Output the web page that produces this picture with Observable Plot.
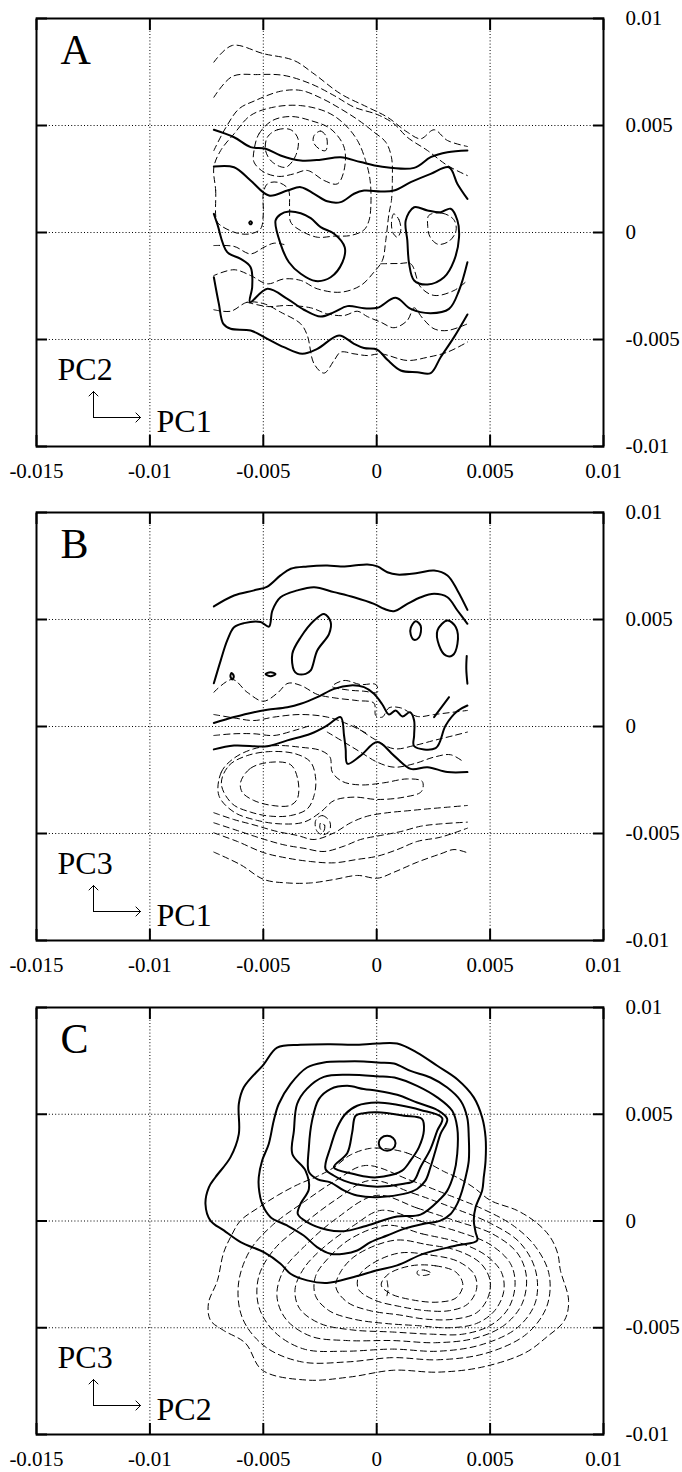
<!DOCTYPE html>
<html>
<head>
<meta charset="utf-8">
<script src="https://cdn.jsdelivr.net/npm/d3@7"></script>
<script src="https://cdn.jsdelivr.net/npm/@observablehq/plot@0.6"></script>
<style>
  html, body { margin: 0; padding: 0; background: white; }
  #chart svg { display: block; }
</style>
</head>
<body>
<div id="chart"></div>
<script>
// ---- axis ticks -------------------------------------------------------
const xTicks = [-0.015, -0.01, -0.005, 0, 0.005, 0.01];
const xTickLabels = ["-0.015", "-0.01", "-0.005", "0", "0.005", "0.01"];
const yTicks = [-0.01, -0.005, 0, 0.005, 0.01];
const yTickLabels = ["-0.01", "-0.005", "0", "0.005", "0.01"];

const panelLetters = ["A", "B", "C"];
const verticalPC = ["PC2", "PC3", "PC3"];
const horizontalPC = ["PC1", "PC1", "PC2"];

// ---- contour lines, flat [x, y, x, y, ...] lists in units of 1e-3 -------
// Panel A (PC1 vs PC2)
const aSolidOpen = [
  [-7.18,4.80, -6.29,4.45, -5.56,3.99, -4.90,3.91, -4.24,3.60, -3.35,3.36, -2.47,3.40, -1.59,3.52, -0.71,3.29, 0.18,3.08, 1.65,3.02, 2.38,3.52, 3.12,3.75, 4.0,3.83],
  [-7.18,3.08, -6.29,3.05, -5.56,2.43, -4.75,1.73, -3.94,1.96, -3.35,2.12, -2.76,1.81, -2.18,1.46, -1.59,1.42, -1.0,1.81, -0.56,1.96, 0.18,1.92, 0.76,1.96, 1.5,2.35, 2.38,2.74, 3.19,3.05, 3.56,2.27, 4.0,1.57],
  [-7.18,0.87, -7.03,0.40, -6.59,-0.92, -6.0,-1.23, -5.56,-1.62, -5.49,-2.55, -5.59,-3.26, -4.82,-2.63, -3.94,-3.10, -3.21,-3.61, -2.47,-3.93, -1.88,-3.72, -1.29,-3.44, -0.56,-3.54, 0.03,-3.52, 0.84,-3.05, 1.5,-3.57, 2.38,-3.77, 3.19,-3.57, 3.63,-2.71, 4.0,-1.39],
  [-7.18,-2.09, -6.96,-3.33, -6.76,-4.27, -6.44,-4.50, -5.56,-4.58, -4.82,-4.97, -4.09,-5.36, -3.28,-5.67, -2.62,-5.44, -1.66,-4.81, -1.0,-5.2, -0.56,-5.4, 0.03,-5.48, 0.47,-5.95, 1.06,-6.45, 1.79,-6.53, 2.38,-6.57, 2.82,-5.83, 3.41,-4.89, 4.0,-3.83]
];
const aSolidClosed = [
  [-3.87,0.98, -3.35,0.90, -2.91,0.67, -2.47,0.25, -1.88,-0.06, -1.41,-0.69, -1.51,-1.39, -2.03,-2.09, -2.69,-2.27, -3.35,-1.93, -3.87,-1.39, -4.24,-0.53, -4.46,0.56, -4.24,0.85],
  [1.28,0.56, 1.65,1.18, 2.24,1.03, 2.82,0.95, 3.26,1.11, 3.56,0.56, 3.63,-0.22, 3.41,-1.31, 2.97,-2.09, 2.24,-2.43, 1.65,-2.24, 1.43,-1.46, 1.35,-0.37],
  [-5.56,0.52, -5.5,0.45, -5.56,0.38, -5.62,0.45]
];
const aDashedOpen = [
  [-7.18,7.96, -6.37,8.74, -4.97,8.35, -3.65,8.04, -2.76,7.41, -1.59,6.48, -0.41,5.86, 0.47,5.39, 1.35,4.69, 1.94,4.38, 2.53,4.80, 3.12,4.30, 4.0,4.02],
  [-7.18,6.32, -6.37,7.29, -5.26,7.38, -4.09,7.34, -2.91,6.95, -1.88,6.40, -1.0,5.86, 0.03,5.51, 0.76,5.08, 1.35,4.45, 2.24,3.83, 3.12,3.13, 4.0,2.66],
  [-7.18,3.83, -6.66,4.89, -6.07,5.78, -5.41,6.14, -4.24,6.60, -3.35,6.64, -2.47,6.29, -1.59,5.78, -0.78,5.23, -0.12,4.69, 0.40,4.22, 0.65,3.52, 0.69,2.43, 0.65,1.50, 0.54,0.87, 0.40,-0.37, 0.25,-1.31, -0.12,-1.85, -0.71,-2.48, -1.59,-2.79, -2.62,-2.63, -3.35,-2.24, -4.09,-2.17, -4.82,-2.40, -5.56,-2.01, -6.29,-1.74, -7.18,-2.01],
  [0.18,-1.46, 1.0,-1.45, 1.5,-1.46, 1.94,-2.55, 2.53,-2.94, 3.41,-2.71, 4.0,-2.24],
  [-7.18,-3.61, -6.44,-3.68, -5.71,-3.26, -4.97,-3.33, -4.24,-3.72, -3.35,-4.27, -3.06,-4.81, -2.76,-6.14, -2.32,-6.57, -1.88,-5.98, -1.59,-5.59, -1.0,-5.67, -0.41,-5.75, 0.18,-5.67, 1.35,-5.98, 2.24,-5.83, 3.12,-5.59, 4.0,-5.12],
  [-5.71,-3.26, -4.82,-3.46, -3.94,-3.41, -2.91,-3.52, -2.18,-3.80, -1.44,-3.88, -0.85,-3.68, -0.41,-3.93, 0.18,-4.19, 0.76,-4.45, 1.35,-4.11, 1.65,-3.52, 2.01,-3.99, 2.53,-4.50, 3.12,-4.58, 4.0,-4.27],
  [-7.18,-0.61, -6.29,-0.65, -5.56,-1.0, -4.97,-0.69, -4.53,-0.5, -4.09,-0.56]
];
const aDashedClosed = [
  [-7.18,3.05, -7.1,1.96, -7.06,0.56, -6.88,0.33, -6.15,-0.03, -5.56,-0.06, -5.12,0.17, -5.0,0.87, -5.0,1.81, -4.82,2.27, -4.38,2.35, -3.91,2.04, -3.84,1.18, -3.79,0.48, -3.35,0.09, -2.62,-0.22, -1.88,-0.17, -1.15,-0.14, -0.56,0.12, -0.34,0.56, -0.26,1.18, -0.29,2.43, -0.49,3.36, -0.85,4.30, -1.44,5.08, -2.18,5.62, -3.35,5.93, -4.53,5.86, -5.56,5.47, -6.29,4.61, -6.88,3.83],
  [-4.82,4.45, -4.38,4.80, -3.79,4.80, -3.47,4.38, -3.57,3.60, -4.01,3.05, -4.60,3.29, -4.90,3.83],
  [-2.76,4.53, -2.47,4.74, -2.21,4.45, -2.25,3.83, -2.54,3.91, -2.79,4.22],
  [-5.41,3.83, -5.19,4.61, -4.60,5.23, -3.79,5.42, -2.91,5.23, -2.03,4.84, -1.44,3.99, -1.44,2.90, -1.74,2.27, -2.32,2.43, -3.06,2.90, -3.65,2.74, -4.31,2.62, -4.97,2.82, -5.41,3.29],
  [0.75,0.87, 0.98,0.6, 1.06,0.09, 0.91,-0.22, 0.74,-0.06, 0.65,0.40],
  [2.3,0.8, 2.9,0.9, 3.4,0.6, 3.5,0.1, 3.2,-0.4, 2.7,-0.55, 2.35,-0.2, 2.25,0.3]
];

// Panel B (PC1 vs PC3)
const bSolidOpen = [
  [-7.18,5.61, -6.29,6.12, -5.41,6.36, -4.82,6.54, -4.24,7.06, -3.79,7.37, -3.06,7.48, -2.18,7.52, -1.59,7.48, -1.0,7.52, -0.41,7.57, 0.03,7.48, 0.47,7.21, 0.91,7.10, 1.79,7.17, 2.53,7.29, 3.12,7.06, 3.56,6.36, 4.0,5.45],
  [-7.18,2.02, -6.88,3.08, -6.59,4.02, -6.29,4.64, -5.85,4.83, -5.12,4.88, -4.75,4.67, -4.6,5.42, -4.24,6.04, -3.5,6.36, -2.76,6.51, -1.88,6.28, -1.0,6.04, -0.12,5.73, 0.32,5.50, 0.76,5.39, 1.35,5.73, 1.94,6.04, 2.53,6.20, 3.12,6.04, 3.56,5.42, 4.0,4.80],
  [-7.18,0.16, -6.29,0.44, -5.41,0.67, -4.82,0.78, -3.94,0.9, -3.35,1.06, -2.62,1.37, -1.88,1.76, -1.15,1.92, -0.56,1.84, -0.12,1.53, 0.25,1.03, 0.54,0.56, 0.84,0.75, 1.13,0.47, 1.47,0.67, 1.65,0.28, 1.65,-0.42, 1.65,-0.92, 2.6,-1.01, 3.04,0.05, 3.56,0.72, 4.0,0.98],
  [-7.18,-1.07, -6.29,-0.89, -4.82,-0.92, -3.94,-0.65, -2.91,-0.34, -2.18,0.05, -1.59,0.44, -1.44,-0.42, -1.37,-1.04, -1.29,-1.74, -0.71,-1.36, 0.03,-0.73, 0.76,-1.36, 1.5,-1.98, 2.24,-1.9, 3.12,-2.13, 4.0,-2.13],
  [3.97,3.3, 3.95,2.7, 4.0,2.0],
  [2.53,0.44, 3.19,1.37]
];
const bSolidClosed = [
  [-3.65,2.62, -3.72,3.40, -3.35,4.17, -2.76,4.95, -2.32,5.26, -2.03,4.88, -2.10,4.33, -2.62,3.55, -2.91,2.62, -3.13,2.46, -3.5,2.46],
  [1.5,4.61, 1.72,4.92, 1.94,4.7, 1.87,4.17, 1.65,4.05, 1.5,4.3],
  [2.68,4.49, 3.12,4.95, 3.49,4.64, 3.56,3.86, 3.34,3.32, 3.04,3.32, 2.75,3.79],
  [-6.4,2.5, -6.3,2.35, -6.37,2.2, -6.45,2.35],
  [-4.9,2.45, -4.68,2.54, -4.46,2.45, -4.68,2.35]
];
const bDashedOpen = [
  [-7.18,1.6, -6.37,2.2, -5.71,1.6, -5.0,1.18, -4.38,1.56, -3.91,2.02, -3.35,1.92, -2.62,1.5, -1.88,1.34, -0.85,1.21, -0.12,1.09, -0.04,0.51, 0.25,0.44, 0.54,0.87, 1.06,0.87, 1.79,0.47, 2.53,0.56, 4.0,0.75],
  [-7.18,0.56, -6.29,0.4, -5.41,0.28, -4.53,0.44, -3.35,0.56, -2.18,0.44, -1.29,0.12, -0.41,-0.34],
  [-7.18,-0.42, -6.29,-0.34, -5.41,-0.34, -4.53,-0.42, -3.65,-0.19, -2.91,0.05],
  [-2.18,-0.26, -1.44,-0.73, -0.71,-1.2, 0.03,-1.67, 0.76,-1.9, 1.65,-1.74, 2.53,-1.43, 3.26,-1.32, 3.85,-1.67],
  [-1.0,0.05, -0.12,-0.58, 0.76,-1.04, 1.65,-0.89, 2.53,-0.65, 3.41,-0.42, 4.0,-0.26],
  [-7.18,-4.03, -6.29,-4.35, -5.41,-4.60, -4.38,-4.91, -3.5,-5.09, -2.76,-5.28, -1.88,-4.97, -1.15,-4.5, -0.41,-4.19, 0.47,-4.03, 1.35,-3.94, 2.24,-3.85, 3.12,-3.77, 4.0,-3.69],
  [-7.18,-4.5, -6.15,-4.86, -5.12,-5.22, -4.09,-5.53, -3.21,-5.69, -2.32,-5.84, -1.44,-5.59, -0.71,-5.28, 0.18,-5.09, 1.06,-4.91, 1.94,-4.66, 2.82,-4.55, 4.0,-4.47],
  [-7.18,-4.97, -6.15,-5.37, -4.97,-5.9, -3.94,-6.15, -2.91,-6.31, -1.88,-6.37, -0.85,-6.21, 0.03,-6.06, 0.91,-5.75, 1.79,-5.37, 2.82,-5.17, 4.0,-4.75],
  [-7.18,-5.87, -6.0,-6.46, -4.97,-7.15, -3.94,-7.31, -2.91,-7.31, -1.88,-7.15, -0.85,-6.96, 0.03,-7.09, 0.76,-6.81, 1.79,-6.34, 2.82,-5.95, 3.41,-5.75, 4.0,-5.90]
];
const bDashedClosed = [
  [-6.0,-2.6, -5.56,-1.95, -4.68,-1.67, -3.79,-1.79, -3.47,-2.52, -3.5,-3.38, -3.82,-3.69, -4.6,-3.69, -5.41,-3.46, -5.93,-3.07],
  [-6.85,-2.68, -6.51,-1.82, -5.71,-1.36, -4.68,-1.17, -3.57,-1.28, -2.91,-1.67, -2.69,-2.45, -2.76,-3.22, -3.06,-3.85, -3.79,-4.16, -4.68,-4.19, -5.56,-4.0, -6.37,-3.61],
  [-6.96,-3.22, -6.85,-2.13, -6.29,-1.48, -5.41,-1.04, -4.38,-0.89, -3.35,-0.97, -2.47,-1.12, -2.06,-1.43, -1.96,-2.13, -1.51,-2.57, -0.71,-2.73, 0.32,-2.63, 1.35,-2.45, 2.01,-2.57, 1.97,-3.04, 1.21,-3.30, 0.03,-3.41, -1.0,-3.30, -1.88,-3.46, -2.47,-4.0, -3.21,-4.47, -4.24,-4.55, -5.26,-4.39, -6.29,-4.0],
  [-2.69,-4.39, -2.4,-4.16, -2.06,-4.47, -2.1,-4.91, -2.4,-5.06, -2.65,-4.86],
  [-2.47,-4.5, -2.29,-4.63, -2.35,-4.91, -2.5,-4.75],
  [-1.96,1.87, -1.44,2.15, -0.71,1.96, -0.04,1.96, 0.03,1.6, -0.56,1.65, -1.29,1.71]
];

// Panel C (PC2 vs PC3)
const cSolidOpen = [];
const cSolidClosed = [
  [-7.11,2.05, -6.45,2.98, -6.08,4.07, -6.08,5.48, -5.86,6.26, -4.98,7.34, -4.39,8.12, -3.36,8.25, -2.04,8.28, -1.01,8.25, 0.02,8.31, 0.9,8.31, 1.78,7.89, 2.67,7.27, 3.55,6.64, 4.28,5.79, 4.65,4.85, 4.8,3.92, 4.8,2.83, 4.72,2.05, 4.65,1.43, 4.36,0.64, 4.28,0.02, 4.36,-0.52, 4.43,-0.91, 3.55,-1.14, 2.08,-1.53, 0.9,-2.08, 0.02,-2.31, -1.01,-2.62, -2.19,-2.9, -3.07,-2.78, -3.8,-2.47, -4.24,-2.0, -4.98,-1.46, -6.0,-0.99, -6.74,-0.44, -7.33,0.02, -7.55,0.8, -7.4,1.58],
  [-5.2,2.05, -5.05,2.83, -4.76,3.61, -4.54,4.70, -4.32,5.48, -3.8,6.41, -3.07,7.19, -2.33,7.42, -1.45,7.47, -0.57,7.47, 0.02,7.42, 0.76,7.38, 1.49,7.03, 2.37,6.72, 3.11,6.25, 3.7,5.63, 3.99,4.85, 4.06,3.92, 4.06,2.83, 3.92,2.05, 3.77,1.43, 3.55,0.80, 3.26,0.33, 2.81,0.02, 2.08,-0.13, 1.2,-0.37, 0.46,-0.68, -0.27,-0.99, -0.86,-1.38, -1.45,-1.53, -2.04,-1.53, -2.63,-1.22, -3.22,-0.68, -3.95,-0.21, -4.68,0.18, -5.05,0.80, -5.2,1.58],
  [-3.72,3.14, -3.65,4.23, -3.51,5.48, -3.07,6.2, -2.33,6.75, -1.3,6.85, 0.02,6.78, 0.9,6.69, 1.78,6.33, 2.67,5.79, 3.33,5.16, 3.55,4.38, 3.55,3.14, 3.4,2.2, 3.1,1.4, 2.81,1.04, 1.93,0.30, 0.9,0.21, -0.57,-0.26, -1.45,-0.48, -2.19,-0.41, -3.07,-0.05, -3.48,0.33, -3.36,0.8, -2.99,1.5, -3.14,2.36],
  [-2.99,2.3, -2.99,3.45, -2.85,4.70, -2.55,5.71, -2.04,6.18, -1.3,6.33, -0.57,6.18, 0.02,6.10, 0.9,5.91, 1.78,5.55, 2.67,5.2, 3.11,4.77, 2.81,4.07, 2.59,3.29, 2.37,2.52, 2.15,1.89, 1.78,1.5, 1.2,1.27, 0.02,1.11, -0.86,1.19, -1.45,1.43, -2.04,1.81, -2.6,1.95],
  [-2.26,2.44, -2.04,3.45, -1.74,4.38, -1.38,5.01, -0.86,5.40, 0.02,5.55, 0.9,5.44, 1.93,5.20, 2.89,4.82, 2.67,4.23, 2.37,3.37, 1.93,2.52, 1.64,1.89, 1.2,1.74, 0.02,1.61, -0.86,1.71, -1.45,1.89, -1.9,2.13],
  [-0.93,4.93, -0.57,5.05, 0.02,5.09, 1.2,4.93, 2.0,4.77, 2.08,4.23, 1.86,3.45, 1.49,2.83, 1.12,2.36, 0.31,2.08, -0.27,2.05, -1.01,2.2, -1.89,2.52, -1.3,3.17, -1.08,4.15],
  [0.46,3.99, 0.72,3.89, 0.83,3.64, 0.72,3.39, 0.46,3.29, 0.2,3.39, 0.09,3.64, 0.2,3.89]
];
const cDashedOpen = [
  [0.46,-2.8, 0.5,-3.2, 0.45,-3.5]
];
const cDashedClosed = [
  [0.46,3.38, 1.3,3.2, 2.07,2.83, 3.0,2.3, 3.57,2.03, 4.3,1.55, 5.02,0.96, 6.2,0.49, 7.09,-0.12, 7.66,-0.77, 7.98,-1.52, 8.1,-2.31, 8.46,-3.71, 8.28,-4.65, 7.49,-5.44, 6.52,-6.19, 4.62,-6.85, 2.68,-7.08, 0.74,-6.99, -1.2,-7.31, -3.1,-7.45, -5.04,-6.99, -5.79,-5.72, -6.76,-5.12, -7.33,-4.65, -7.42,-3.86, -7.02,-2.78, -6.76,-1.52, -6.45,-0.77, -6.0,0.02, -5.25,0.6, -4.37,1.2, -3.49,1.7, -2.6,2.1, -1.9,2.5, -1.15,3.1, -0.3,3.4],
  [-0.5,2.6, 1.5,1.9, 3.2,1.2, 4.6,0.6, 6.0,-0.2, 7.0,-1.2, 7.6,-2.5, 7.5,-4.0, 6.6,-5.3, 4.8,-6.2, 2.7,-6.5, 0.7,-6.4, -1.3,-6.6, -3.3,-6.6, -4.9,-5.9, -5.9,-4.6, -6.1,-3.0, -5.6,-1.4, -4.6,-0.2, -3.2,0.9, -1.8,1.9],
  [-0.3,1.9, 1.6,1.3, 3.4,0.6, 5.0,-0.1, 6.3,-1.0, 7.0,-2.3, 7.0,-3.8, 6.2,-5.0, 4.6,-5.8, 2.7,-6.1, 0.7,-6.0, -1.4,-6.1, -3.2,-6.0, -4.5,-5.2, -5.2,-4.0, -5.2,-2.6, -4.5,-1.3, -3.3,-0.2, -1.8,1.0],
  [0.0,1.2, 1.8,0.6, 3.5,0.0, 5.1,-0.6, 6.2,-1.5, 6.6,-2.6, 6.4,-3.9, 5.6,-4.9, 4.3,-5.5, 2.6,-5.7, 0.7,-5.6, -1.3,-5.6, -2.9,-5.4, -4.0,-4.6, -4.4,-3.5, -4.1,-2.3, -3.2,-1.2, -1.8,0.1],
  [0.2,0.5, 1.9,0.0, 3.6,-0.5, 5.0,-1.1, 5.9,-2.0, 6.1,-3.0, 5.8,-4.1, 5.0,-4.9, 3.8,-5.3, 2.4,-5.3, 0.7,-5.2, -1.1,-5.1, -2.5,-4.8, -3.4,-4.1, -3.6,-3.2, -3.2,-2.2, -2.3,-1.2, -1.0,-0.2],
  [0.5,-0.2, 2.0,-0.6, 3.6,-1.0, 4.8,-1.6, 5.5,-2.4, 5.6,-3.3, 5.2,-4.2, 4.4,-4.8, 3.2,-5.0, 1.8,-4.9, 0.4,-4.8, -1.0,-4.6, -2.1,-4.2, -2.7,-3.5, -2.7,-2.6, -2.1,-1.7, -1.1,-0.8],
  [0.8,-0.9, 2.2,-1.1, 3.6,-1.4, 4.6,-2.0, 5.0,-2.8, 4.9,-3.6, 4.4,-4.3, 3.4,-4.6, 2.2,-4.6, 1.0,-4.4, -0.3,-4.2, -1.3,-3.8, -1.8,-3.1, -1.6,-2.4, -0.9,-1.6],
  [1.0,-1.5, 2.4,-1.6, 3.6,-1.9, 4.3,-2.5, 4.4,-3.2, 4.0,-3.9, 3.2,-4.2, 2.2,-4.2, 1.0,-4.0, -0.1,-3.7, -0.8,-3.2, -0.8,-2.6, -0.2,-2.0],
  [1.5,-2.1, 2.6,-2.1, 3.5,-2.4, 3.8,-3.0, 3.5,-3.6, 2.7,-3.8, 1.6,-3.7, 0.6,-3.4, 0.2,-3.0, 0.5,-2.5],
  [1.8,-2.35, 2.1,-2.3, 2.4,-2.45, 2.1,-2.55, 1.8,-2.5]
];

// ---- build tables ------------------------------------------------------
function toRows(lines, tag) {
  const rows = [];
  lines.forEach((flat, i) => {
    for (let j = 0; j < flat.length; j += 2) {
      rows.push({id: tag + i, x: flat[j] / 1000, y: flat[j + 1] / 1000});
    }
  });
  return rows;
}

const panelData = [
  {solidOpen: aSolidOpen, solidClosed: aSolidClosed, dashedOpen: aDashedOpen, dashedClosed: aDashedClosed},
  {solidOpen: bSolidOpen, solidClosed: bSolidClosed, dashedOpen: bDashedOpen, dashedClosed: bDashedClosed},
  {solidOpen: cSolidOpen, solidClosed: cSolidClosed, dashedOpen: cDashedOpen, dashedClosed: cDashedClosed}
];

const fmtX = d => xTickLabels[xTicks.findIndex(t => Math.abs(t - d) < 1e-9)];
const fmtY = d => yTickLabels[yTicks.findIndex(t => Math.abs(t - d) < 1e-9)];
const blank = () => "";

const layout = [
  {height: 494, top: 18, bottom: 48},
  {height: 494, top: 18, bottom: 48},
  {height: 484, top: 19, bottom: 38}
];

const SOLID_W = 2, DASH_W = 1, DASH = "6,4";

panelData.forEach((pd, p) => {
  const L = layout[p];
  const lineStyle = (solid) => ({
    x: "x", y: "y", z: "id", stroke: "black",
    strokeWidth: solid ? SOLID_W : DASH_W,
    strokeDasharray: solid ? null : DASH,
    strokeLinejoin: "round"
  });
  const svg = Plot.plot({
    width: 682,
    height: L.height,
    marginLeft: 36,
    marginRight: 79,
    marginTop: L.top,
    marginBottom: L.bottom,
    x: {domain: [-0.015, 0.01]},
    y: {domain: [-0.01, 0.01]},
    style: {fontFamily: "'Liberation Serif', 'Times New Roman', serif", fontSize: "21px", background: "white", color: "black"},
    marks: [
      Plot.gridX(xTicks.slice(1, -1), {stroke: "black", strokeOpacity: 1, strokeWidth: 1, strokeDasharray: "1,2.2"}),
      Plot.gridY(yTicks.slice(1, -1), {stroke: "black", strokeOpacity: 1, strokeWidth: 1, strokeDasharray: "1,2.2"}),
      Plot.line(toRows(pd.dashedOpen, "do"), {...lineStyle(false), curve: "catmull-rom"}),
      Plot.line(toRows(pd.dashedClosed, "dc"), {...lineStyle(false), curve: "catmull-rom-closed"}),
      Plot.line(toRows(pd.solidOpen, "so"), {...lineStyle(true), curve: "catmull-rom"}),
      Plot.line(toRows(pd.solidClosed, "sc"), {...lineStyle(true), curve: "catmull-rom-closed"}),
      Plot.frame({stroke: "black", strokeWidth: 2}),
      // inward ticks on all four sides
      Plot.axisX(xTicks, {anchor: "bottom", tickSize: 11, dy: -11, tickFormat: blank, label: null, strokeWidth: 2}),
      Plot.axisX(xTicks, {anchor: "top", tickSize: 11, dy: 11, tickFormat: blank, label: null, strokeWidth: 2}),
      Plot.axisY(yTicks, {anchor: "left", tickSize: 11, dx: 11, tickFormat: blank, label: null, strokeWidth: 2}),
      Plot.axisY(yTicks, {anchor: "right", tickSize: 11, dx: -11, tickFormat: blank, label: null, strokeWidth: 2}),
      // tick labels
      Plot.axisX(xTicks, {anchor: "bottom", tickSize: 0, tickPadding: 17, tickFormat: fmtX, label: null}),
      Plot.axisY(yTicks, {anchor: "right", tickSize: 0, tickPadding: 22, tickFormat: fmtY, label: null, textAnchor: "start"}),
      // panel letter
      Plot.text([panelLetters[p]], {frameAnchor: "top-left", text: d => d, dx: 24, dy: 45, textAnchor: "start", lineAnchor: "bottom", fontSize: 42}),
      // axis-direction legend
      Plot.text([verticalPC[p]], {frameAnchor: "bottom-left", text: d => d, dx: 21, dy: -67, textAnchor: "start", lineAnchor: "bottom", fontSize: 32}),
      Plot.text([horizontalPC[p]], {frameAnchor: "bottom-left", text: d => d, dx: 120, dy: -15, textAnchor: "start", lineAnchor: "bottom", fontSize: 32}),
      Plot.vector([verticalPC[p]], {frameAnchor: "bottom-left", dx: 57, dy: -29, length: 26, rotate: 0, anchor: "start", r: 3, stroke: "black", strokeWidth: 1}),
      Plot.vector([horizontalPC[p]], {frameAnchor: "bottom-left", dx: 57, dy: -29, length: 47, rotate: 90, anchor: "start", r: 1.7, stroke: "black", strokeWidth: 1})
    ]
  });
  document.getElementById("chart").appendChild(svg);
});
</script>
</body>
</html>
